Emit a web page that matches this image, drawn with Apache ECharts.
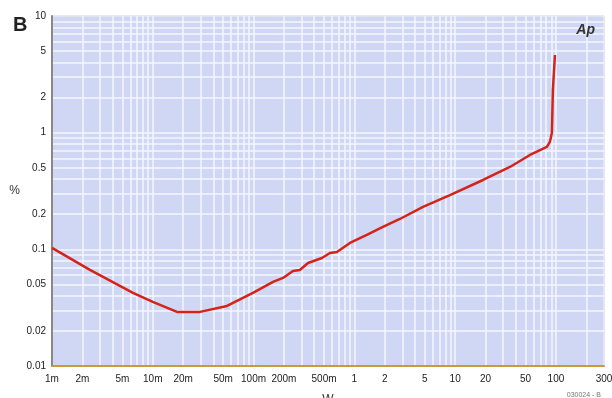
<!DOCTYPE html>
<html>
<head>
<meta charset="utf-8">
<script src="https://cdn.jsdelivr.net/npm/echarts@6/dist/echarts.min.js"></script>
<style>
  html, body { margin: 0; padding: 0; background: #fff; }
  #chart { width: 612px; height: 398px; }
</style>
</head>
<body>
<div id="chart"></div>
<script>
  // THD+N (%) vs output power (W)
  const powerW = [0.001, 0.00238, 0.00636, 0.01, 0.0174, 0.0294, 0.0545, 0.0986, 0.156, 0.196, 0.246,
    0.288, 0.347, 0.477, 0.573, 0.672, 0.904, 1.33, 1.92, 2.83, 4.8, 8.88, 18.9, 35, 55.2, 81.4,
    87.1, 91.2, 93.3, 97.8]
  const thdPct = [0.103, 0.0666, 0.0423, 0.0354, 0.0291, 0.0291, 0.0327, 0.0423, 0.0526, 0.0569, 0.0653,
    0.0666, 0.0764, 0.0843, 0.0931, 0.095, 0.1135, 0.133, 0.1556, 0.182, 0.231, 0.292, 0.393, 0.508, 0.644, 0.754,
    0.832, 0.994, 2.32, 4.63]

  const xLabelValues = [0.001, 0.002, 0.005, 0.01, 0.02, 0.05, 0.1, 0.2, 0.5, 1, 2, 5, 10, 20, 50, 100, 300]
  const yLabelValues = [0.01, 0.02, 0.05, 0.1, 0.2, 0.5, 1, 2, 5, 10]

  // grid lines at 1..9 of every decade
  const xGridValues = []
  ;[0.001, 0.01, 0.1, 1, 10, 100].forEach(d => {
    for (let k = 1; k <= 9; k++) {
      const v = +(d * k).toPrecision(3)
      if (v <= 300) xGridValues.push(v)
    }
  })
  const yGridValues = []
  ;[0.01, 0.1, 1].forEach(d => {
    for (let k = 1; k <= 9; k++) yGridValues.push(+(d * k).toPrecision(3))
  })
  yGridValues.push(10)

  const fmtW = (v) => {
    if (v < 1) return Math.round(v * 1000) + 'm'
    return String(Math.round(v))
  }

  const chart = echarts.init(document.getElementById('chart'))
  const font = 'Liberation Sans'
  chart.setOption({
    animation: false,
    textStyle: { fontFamily: font },
    grid: {
      left: 52,
      right: 8,
      top: 16,
      bottom: 32,
      outerBoundsMode: 'none',
      containLabel: false,
      show: true,
      backgroundColor: '#cfd7f5',
      borderColor: '#808080',
      borderWidth: 1
    },
    title: [
      {
        text: 'B',
        left: 8,
        top: 10,
        textStyle: { fontSize: 20, fontWeight: 'bold', color: '#222', fontFamily: font }
      },
      {
        text: 'Ap',
        right: 12,
        top: 18,
        textStyle: { fontSize: 14, fontStyle: 'italic', fontWeight: 'bold', color: '#333', fontFamily: font }
      },
      {
        text: '030024 - B',
        right: 6,
        top: 387,
        textStyle: { fontSize: 7, fontWeight: 'normal', color: '#777', fontFamily: font }
      }
    ],
    xAxis: {
      type: 'log',
      logBase: 10,
      min: 0.001,
      max: 300,
      name: 'W',
      nameLocation: 'middle',
      nameGap: 28,
      nameTextStyle: { fontSize: 12, color: '#333' },
      axisLine: { show: true, lineStyle: { color: '#c89a3a', width: 2 } },
      axisTick: { show: false, customValues: xGridValues },
      axisLabel: {
        customValues: xLabelValues,
        formatter: fmtW,
        fontSize: 10,
        color: '#222',
        margin: 8,
        showMinLabel: true,
        showMaxLabel: true,
        hideOverlap: false
      },
      splitLine: { show: true, lineStyle: { color: '#f4f6ff', width: 1.5 } }
    },
    yAxis: {
      type: 'log',
      logBase: 10,
      min: 0.01,
      max: 10,
      name: '%',
      nameLocation: 'middle',
      nameRotate: 0,
      nameGap: 32,
      nameTextStyle: { fontSize: 12, color: '#333' },
      axisLine: { show: true, lineStyle: { color: '#888', width: 2 } },
      axisTick: { show: false, customValues: yGridValues },
      axisLabel: {
        customValues: yLabelValues,
        formatter: (v) => String(+v.toPrecision(2)),
        fontSize: 10,
        color: '#222',
        margin: 6,
        showMinLabel: true,
        showMaxLabel: true
      },
      splitLine: { show: true, lineStyle: { color: '#f4f6ff', width: 1.5 } }
    },
    series: [
      {
        type: 'line',
        data: powerW.map((x, i) => [x, thdPct[i]]),
        showSymbol: false,
        lineStyle: { color: '#d42418', width: 2.5 },
        z: 5
      }
    ]
  })
</script>
</body>
</html>
